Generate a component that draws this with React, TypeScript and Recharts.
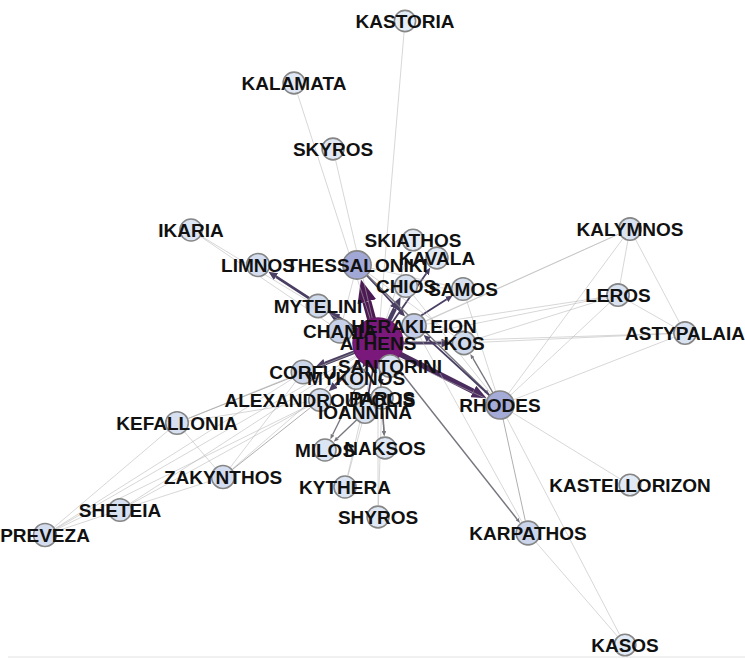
import React from "react";
import { ScatterChart, Scatter, XAxis, YAxis, ReferenceLine } from "recharts";

const W = 745;
const H = 659;

// airports, force-layout coordinates and traffic
const airports = [
  "ATHENS", "THESSALONIKI", "RHODES", "HERAKLEION", "CHANIA", "KOS", "SAMOS", "CHIOS",
  "MYTELINI", "LIMNOS", "SKIATHOS", "KAVALA", "CORFU", "SANTORINI", "MYKONOS", "PAROS",
  "ALEXANDROUPOLIS", "IOANNINA", "MILOS", "NAKSOS", "KYTHERA", "SHYROS", "KEFALLONIA",
  "ZAKYNTHOS", "SHETEIA", "PREVEZA", "KALYMNOS", "LEROS", "ASTYPALAIA", "KASTELLORIZON",
  "KARPATHOS", "KASOS", "KASTORIA", "KALAMATA", "SKYROS", "IKARIA",
];
const layoutX = [
  378, 357, 500, 414, 340, 464, 463, 406,
  318, 258, 413, 437, 303, 390, 356, 382,
  320, 365, 325, 385, 345, 378, 177,
  223, 120, 45, 630, 618, 685, 630,
  528, 625, 405, 294, 333, 191,
];
const layoutY = [
  343, 265, 405, 326, 331, 343, 289, 286,
  306, 265, 240, 258, 372, 366, 378, 398,
  400, 412, 450, 448, 487, 517, 423,
  477, 510, 535, 229, 295, 333, 485,
  533, 645, 21, 83, 149, 230,
];
const traffic = [
  100, 27, 26, 12, 11, 8, 6, 6,
  8, 7, 2, 3, 9, 6, 5, 4,
  6, 5, 4, 3, 4, 3, 6,
  7, 6, 7, 5, 5, 5, 2,
  10, 2, 1, 3, 3, 4,
];

// routes
const edgeFrom = [
  "ATHENS", "ATHENS", "ATHENS", "ATHENS", "ATHENS", "ATHENS", "ATHENS", "ATHENS",
  "ATHENS", "ATHENS", "ATHENS", "ATHENS", "ATHENS", "ATHENS", "ATHENS", "ATHENS",
  "ATHENS", "ATHENS", "ATHENS", "ATHENS", "ATHENS", "ATHENS", "ATHENS", "ATHENS",
  "ATHENS", "ATHENS", "ATHENS", "ATHENS", "ATHENS", "ATHENS", "ATHENS", "ATHENS",
  "ATHENS",
  "THESSALONIKI", "THESSALONIKI", "THESSALONIKI", "THESSALONIKI", "THESSALONIKI",
  "IKARIA",
  "RHODES", "RHODES", "RHODES", "RHODES", "RHODES", "RHODES", "RHODES", "RHODES",
  "RHODES", "RHODES", "RHODES",
  "HERAKLEION", "KARPATHOS",
  "KALYMNOS", "KALYMNOS", "KALYMNOS", "LEROS", "LEROS", "LEROS", "ASTYPALAIA",
  "CHIOS",
  "CORFU", "CORFU", "CORFU", "ALEXANDROUPOLIS", "ALEXANDROUPOLIS", "ALEXANDROUPOLIS",
  "ALEXANDROUPOLIS", "KEFALLONIA", "KEFALLONIA", "SHETEIA", "SHETEIA",
  "IOANNINA", "IOANNINA", "PAROS", "PAROS",
];
const edgeTo = [
  "THESSALONIKI", "HERAKLEION", "CHANIA", "RHODES", "CORFU", "SANTORINI", "MYTELINI", "CHIOS",
  "KOS", "MYKONOS", "SAMOS", "ALEXANDROUPOLIS", "LIMNOS", "IOANNINA", "PAROS", "KAVALA",
  "KARPATHOS", "NAKSOS", "MILOS", "KEFALLONIA", "ZAKYNTHOS", "SKIATHOS", "KASTORIA", "KALAMATA",
  "SKYROS", "IKARIA", "KYTHERA", "SHYROS", "LEROS", "ASTYPALAIA", "KALYMNOS", "SHETEIA",
  "PREVEZA",
  "HERAKLEION", "RHODES", "CHANIA", "SAMOS", "KOS",
  "CHANIA",
  "HERAKLEION", "KARPATHOS", "KASOS", "KASTELLORIZON", "KOS", "LEROS", "KALYMNOS", "ASTYPALAIA",
  "SAMOS", "CHANIA", "CHIOS",
  "KARPATHOS", "KASOS",
  "HERAKLEION", "LEROS", "ASTYPALAIA", "HERAKLEION", "KOS", "ASTYPALAIA", "KOS",
  "SAMOS",
  "KEFALLONIA", "PREVEZA", "ZAKYNTHOS", "KEFALLONIA", "SHETEIA", "ZAKYNTHOS",
  "PREVEZA", "ZAKYNTHOS", "PREVEZA", "PREVEZA", "ZAKYNTHOS",
  "MILOS", "KYTHERA", "NAKSOS", "SHYROS",
];
const edgeWeight = [
  10, 7, 6, 6, 4, 4, 4, 5,
  3.5, 3, 2, 3, 3, 2, 2, 2,
  1.6, 1.5, 1.5, 1.2, 1, 1, 1, 1,
  1, 1, 1, 1, 1, 1, 1, 1,
  1,
  2, 1.5, 1, 1, 1,
  1,
  2, 1.2, 1, 1, 1.5, 1, 1, 1,
  1, 1, 1,
  1, 1,
  1, 1, 1, 1, 1, 1, 1,
  1,
  1, 1, 1, 1, 1, 1.2,
  1, 1, 1, 1, 1,
  1.5, 1, 1.5, 1,
];

const nodes = airports.map((name, i) => ({
  name,
  x: layoutX[i],
  y: layoutY[i],
  traffic: traffic[i],
}));
const nodeIndex: Record<string, number> = {};
airports.forEach((n, i) => (nodeIndex[n] = i));

const hex = (c: string) => [1, 3, 5].map((k) => parseInt(c.slice(k, k + 2), 16));
const mix = (a: string, b: string, t: number) => {
  const ca = hex(a);
  const cb = hex(b);
  const r = ca.map((v, k) => Math.round(v + (cb[k] - v) * t));
  return `rgb(${r[0]},${r[1]},${r[2]})`;
};

const radiusOf = (t: number) => (t >= 100 ? 25 : 10.5 + 0.135 * t);
const fillOf = (t: number) => {
  if (t <= 12) return mix("#e8f1f8", "#c4cee8", t / 12);
  if (t <= 27) return mix("#c4cee8", "#a2a8d6", (t - 12) / 15);
  return mix("#a2a8d6", "#7a187c", (t - 27) / 73);
};

const edgeWidth = (w: number) => (w >= 1.5 ? 0.9 * w : w > 1 ? 0.8 : 0.55);
const edgeColorOf = (w: number) =>
  w >= 8 ? "#4b1a52" : w >= 6 ? "#4a2c5e" : w >= 2 ? "#4a3e62" : w >= 1.5 ? "#77767f" : w > 1 ? "#9a9a9a" : "#b6b6b6";
const arrowLen = (sw: number) => (sw < 1.6 ? 5 : 2.2 * sw + 3);
const arrowHalf = (sw: number) => (sw < 1.6 ? 2 : 0.9 * sw + 1.5);

const renderEdge = (p: any, i: number, to: number) => {
  const { x1, y1, x2, y2 } = p;
  if (x1 == null || x2 == null) return <g />;
  const w = edgeWeight[i];
  const dx = x2 - x1;
  const dy = y2 - y1;
  const len = Math.sqrt(dx * dx + dy * dy) || 1;
  const sw = edgeWidth(w);
  const arrow = w >= 1.5;
  const cut = radiusOf(traffic[to]) + 1 + (arrow ? arrowLen(sw) : 0);
  const ux = dx / len;
  const uy = dy / len;
  return (
    <line
      x1={x1}
      y1={y1}
      x2={x2 - ux * cut}
      y2={y2 - uy * cut}
      stroke={edgeColorOf(w)}
      strokeWidth={sw}
      markerEnd={arrow ? `url(#arrow-${i})` : undefined}
    />
  );
};

const NodeCircle = (p: any) => {
  const t = p.payload.traffic;
  return (
    <circle
      cx={p.cx}
      cy={p.cy}
      r={radiusOf(t)}
      fill={fillOf(t)}
      stroke={t >= 100 ? "#6a1a6a" : "#858585"}
      strokeWidth={1.6}
    />
  );
};

const NodeLabel = (p: any) => (
  <text
    x={p.cx}
    y={p.cy}
    textAnchor="middle"
    dominantBaseline="central"
    fontFamily="'Liberation Sans', Arial, sans-serif"
    fontWeight={700}
    fontSize={19}
    fill="#111"
  >
    {p.payload.name}
  </text>
);

export default function App() {
  return (
    <div style={{ position: "absolute", left: 0, top: 0, width: W, height: H, background: "#fff" }}>
      <svg width={0} height={0} style={{ position: "absolute" }}>
        <defs>
          {edgeWeight.map((w, i) => {
            const sw = edgeWidth(w);
            const l = arrowLen(sw);
            const h = arrowHalf(sw);
            return (
              <marker
                key={i}
                id={`arrow-${i}`}
                markerUnits="userSpaceOnUse"
                markerWidth={l}
                markerHeight={2 * h}
                refX={0}
                refY={h}
                orient="auto"
              >
                <path d={`M0,0 L${l},${h} L0,${2 * h} z`} fill={edgeColorOf(w)} />
              </marker>
            );
          })}
        </defs>
      </svg>
      <ScatterChart width={W} height={H} margin={{ top: 0, right: 0, bottom: 0, left: 0 }}>
        <XAxis type="number" dataKey="x" domain={[0, W]} hide />
        <YAxis type="number" dataKey="y" domain={[0, H]} reversed hide />
        <ReferenceLine
          segment={[
            { x: 8, y: 657 },
            { x: W, y: 657 },
          ]}
          stroke="#e2e2e2"
          strokeWidth={1}
        />
        {edgeFrom.map((f, i) => {
          const a = nodeIndex[f];
          const b = nodeIndex[edgeTo[i]];
          return (
            <ReferenceLine
              key={`e${i}`}
              segment={[
                { x: layoutX[a], y: layoutY[a] },
                { x: layoutX[b], y: layoutY[b] },
              ]}
              shape={(p: any) => renderEdge(p, i, b)}
            />
          );
        })}
        <Scatter data={nodes} shape={NodeCircle} isAnimationActive={false} />
        <Scatter data={nodes} shape={NodeLabel} isAnimationActive={false} />
      </ScatterChart>
    </div>
  );
}
